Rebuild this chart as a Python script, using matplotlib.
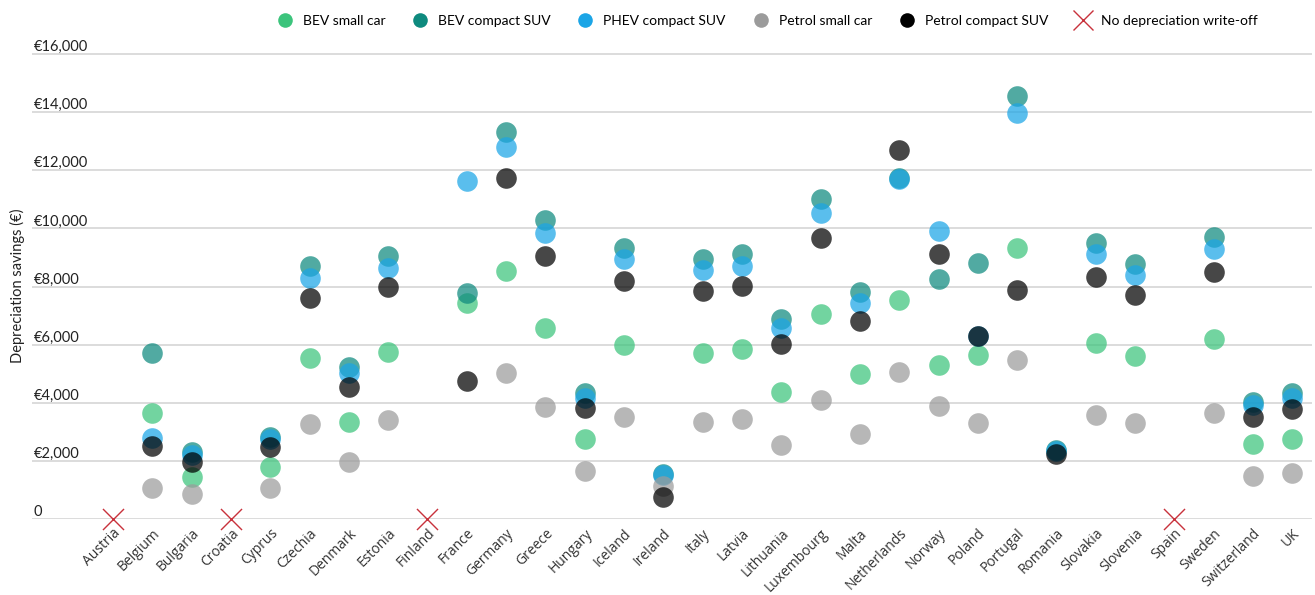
import matplotlib
matplotlib.use("Agg")
import matplotlib.pyplot as plt
import numpy as np
from matplotlib.lines import Line2D

countries = ["Austria", "Belgium", "Bulgaria", "Croatia", "Cyprus", "Czechia", "Denmark",
             "Estonia", "Finland", "France", "Germany", "Greece", "Hungary", "Iceland",
             "Ireland", "Italy", "Latvia", "Lithuania", "Luxembourg", "Malta", "Netherlands",
             "Norway", "Poland", "Portugal", "Romania", "Slovakia", "Slovenia", "Spain",
             "Sweden", "Switzerland", "UK"]
nan = np.nan
bev_small = [nan, 3640, 1460, nan, 1800, 5530, 3330, 5760, nan, 7440, 8550, 6580, 2750, 5990,
             nan, 5700, 5840, 4360, 7040, 4980, 7540, 5300, 5640, 9310, nan, 6050, 5610, nan,
             6190, 2580, 2750]
bev_suv = [nan, 5700, 2320, nan, 2830, 8710, 5240, 9050, nan, 7790, 13330, 10290, 4330, 9340,
           1550, 8940, 9120, 6870, 11000, 7800, 11750, 8260, 8800, 14560, 2370, 9490, 8760, nan,
           9690, 4040, 4330]
phev_suv = [nan, 2780, 2200, nan, 2740, 8280, 5040, 8650, nan, 11630, 12790, 9830, 4150, 8940,
            1530, 8570, 8710, 6560, 10520, 7440, 11700, 9920, 6290, 13980, 2340, 9120, 8400, nan,
            9290, 3920, 4150]
petrol_small = [nan, 1080, 860, nan, 1080, 3260, 1950, 3410, nan, nan, 5010, 3840, 1650, 3500,
                1130, 3350, 3430, 2550, 4100, 2910, 5070, 3890, 3290, 5470, nan, 3580, 3290, nan,
                3640, 1490, 1590]
petrol_suv = [nan, 2510, 1970, nan, 2490, 7590, 4550, 7970, nan, 4750, 11750, 9050, 3810, 8190,
              770, 7850, 8020, 6010, 9660, 6820, 12700, 9120, 6280, 7880, 2250, 8340, 7710, nan,
              8510, 3520, 3780]
no_writeoff = ["Austria", "Croatia", "Finland", "Spain"]
yticks = [0, 2000, 4000, 6000, 8000, 10000, 12000, 14000, 16000]
ytick_labels = ["0", "€2,000", "€4,000", "€6,000", "€8,000", "€10,000", "€12,000", "€14,000", "€16,000"]

series = [
    ("BEV small car", bev_small, "#3cc47c"),
    ("BEV compact SUV", bev_suv, "#0e8a7e"),
    ("PHEV compact SUV", phev_suv, "#1ba5e6"),
    ("Petrol small car", petrol_small, "#9b9b9b"),
    ("Petrol compact SUV", petrol_suv, "#000000"),
]

W, H = 1315, 595
fig = plt.figure(figsize=(W / 100, H / 100), dpi=100)
ax = fig.add_axes([32 / W, 1 - 519 / H, (1312 - 32) / W, (519 - 39.5) / H])

x = np.arange(len(countries))
for name, vals, col in series:
    ax.scatter(x, vals, s=220, color=col, alpha=0.72, linewidths=0, zorder=3, clip_on=False)

xw = [countries.index(c) for c in no_writeoff]
ax.scatter(xw, [0] * len(xw), marker="x", s=230, color="#c8323c", linewidths=1.0, zorder=4,
           clip_on=False)

ax.set_xlim(-2.06, 30.5)
ax.set_ylim(0, 16500)
ax.set_yticks(yticks)
ax.set_yticklabels(ytick_labels)
ax.grid(axis="y", color="#d9d9d9", linewidth=1.3, zorder=0)
ax.set_axisbelow(True)
for s in ax.spines.values():
    s.set_visible(False)
ax.tick_params(axis="y", length=0, pad=-1, labelsize=10.5, labelcolor="#222222")
for lab in ax.get_yticklabels():
    lab.set_ha("left")
    lab.set_va("bottom")
    lab.set_family("Lato")

ax.set_xticks(x)
ax.set_xticklabels(countries, rotation=45, ha="right", va="top", rotation_mode="anchor",
                   family="Open Sans", fontsize=10, color="#333333")
ax.tick_params(axis="x", length=0, pad=5)

fig.text(17 / W, 1 - 286 / H, "Depreciation savings (€)", rotation=90, ha="center", va="center",
         family="Lato", fontsize=10.5, color="#222222")

handles = [Line2D([], [], marker="o", linestyle="none", markersize=10.5, color=c,
                  markeredgewidth=0) for _, _, c in series]
handles.append(Line2D([], [], marker="x", linestyle="none", markersize=15, color="#c8323c",
                      markeredgewidth=1.0))
labels = [n for n, _, _ in series] + ["No depreciation write-off"]
fig.legend(handles, labels, loc="center", bbox_to_anchor=(767 / W, 1 - 21 / H), ncol=6,
           frameon=False, prop={"family": "Lato", "size": 10}, handletextpad=0.7,
           columnspacing=1.9, handlelength=1.2)

fig.savefig("out.png", dpi=100)
